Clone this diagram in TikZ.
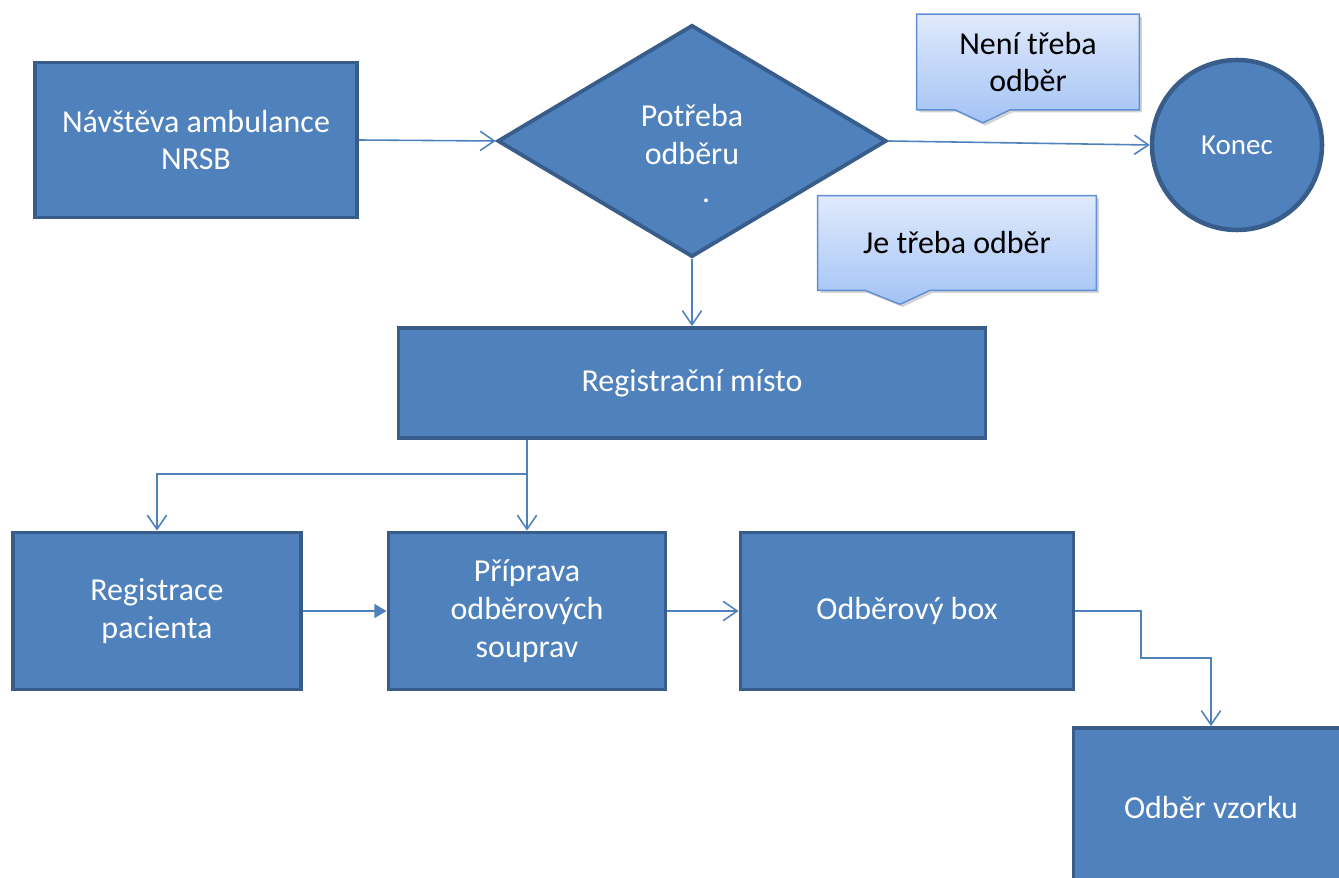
\documentclass[tikz,border=0pt]{standalone}
\usepackage{fontspec}
\setmainfont{Carlito}
\usetikzlibrary{positioning, calc}
\usetikzlibrary{arrows.meta,shapes,backgrounds,shadows}
\definecolor{boxblue}{HTML}{4F81BD}
\definecolor{boxedge}{HTML}{385D8A}
\definecolor{notetop}{HTML}{E0EAFC}
\definecolor{notebottom}{HTML}{A3C3F5}
\definecolor{noteedge}{HTML}{5E8FD6}

\begin{document}
\begin{tikzpicture}[x=0.02cm, y=-0.02cm,
                    font=\fontsize{18.2}{21.5}\selectfont,
                    process/.style={rectangle,
                                    draw=boxedge,
                                    fill=boxblue,
                                    line width=2.2pt,
                                    text=white,
                                    align=center,
                                    inner sep=0pt},
                    decision/.style={diamond,
                                     draw=boxedge,
                                     fill=boxblue,
                                     line width=2.2pt,
                                     inner sep=0pt,
                                     minimum width=7.78cm,
                                     minimum height=4.64cm},
                    terminal/.style={circle,
                                     draw=boxedge,
                                     fill=boxblue,
                                     line width=2.6pt,
                                     text=white,
                                     minimum size=3.4cm,
                                     font=\fontsize{16.5}{20}\selectfont},
                    note/.style={align=center, text=black},
                    notebox/.style={draw=noteedge,
                                    line width=0.8pt,
                                    top color=notetop,
                                    bottom color=notebottom,
                                    drop shadow={opacity=0.35, shadow xshift=1.5pt, shadow yshift=-1.5pt}},
                    link/.style={draw=boxblue, line width=0.9pt, -{Straight Barb[length=8pt,width=11pt]}},
                    solid link/.style={draw=boxblue, line width=0.9pt, -{Triangle[length=7pt,width=8pt]}}]
	\useasboundingbox (0,0) rectangle (1339,878);
	\clip (0,0) rectangle (1339,878);

	\node[process, minimum width=6.44cm, minimum height=3.1cm] (navsteva) at (196,140) {Návštěva ambulance\\NRSB};
	\node[decision, label={[text=white, align=center, yshift=-0.25cm]center:{Potřeba\\odběru\\\hspace*{16pt}.}}] (potreba) at (692,141) {};
	\node[terminal] (konec) at (1237,145) {Konec};
	\node[process, minimum width=11.74cm, minimum height=2.2cm] (regmisto) at (692,383) {Registrační místo};

	\node[process, minimum width=5.76cm, minimum height=3.14cm] (registrace) at (157,611) {Registrace\\pacienta};
	\node[process, minimum width=5.54cm, minimum height=3.14cm] (priprava) at (527,611) {Příprava\\odběrových\\souprav};
	\node[process, minimum width=6.66cm, minimum height=3.14cm] (odbox) at (907,611) {Odběrový box};
	\node[process, minimum width=5.5cm, minimum height=3.2cm] (vzorek) at (1211,808) {Odběr vzorku};

	% popisky vetvi
	\node[note, minimum width=4.44cm, minimum height=1.9cm] (nenitreba) at (1028,62) {Není třeba\\odběr};
	\node[note, minimum width=5.56cm, minimum height=1.88cm] (jetreba) at (957,243) {Je třeba odběr};
	\begin{scope}[on background layer]
		\draw[notebox] (nenitreba.north west) -- (nenitreba.north east) -- (nenitreba.south east)
			-- ($(nenitreba.south)+(-18,0)$) -- ($(nenitreba.south)+(-45,13)$) -- ($(nenitreba.south)+(-73,0)$)
			-- (nenitreba.south west) -- cycle;
		\draw[notebox] (jetreba.north west) -- (jetreba.north east) -- (jetreba.south east)
			-- ($(jetreba.south)+(-27,0)$) -- ($(jetreba.south)+(-57,14)$) -- ($(jetreba.south)+(-92,0)$)
			-- (jetreba.south west) -- cycle;
	\end{scope}

	\draw[link] (navsteva.east) -- (potreba.west);
	\draw[link] (potreba.east) -- (konec.west);
	\draw[link] (potreba.south) -- (regmisto.north);

	\coordinate (split) at (527,474);
	\draw[link] (priprava.north |- regmisto.south) -- (priprava.north);
	\draw[link] (split) -| (registrace.north);

	\draw[solid link] (registrace.east) -- (priprava.west);
	\draw[link] (priprava.east) -- (odbox.west);
	\coordinate (knee) at (1141,658);
	\draw[link] (odbox.east) -| (knee) -| (vzorek.north);
\end{tikzpicture}
\end{document}
